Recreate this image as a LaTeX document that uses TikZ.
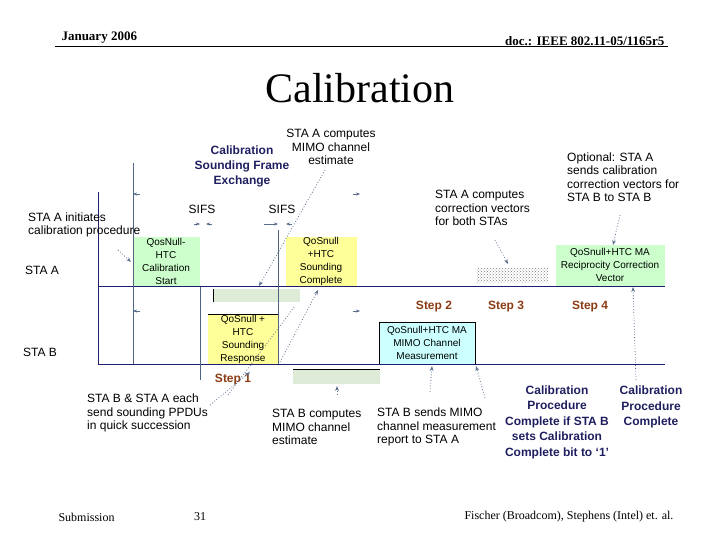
\documentclass[tikz,border=0pt]{standalone}
\usepackage{fontspec}
\setmainfont{Liberation Sans}
\newfontfamily\serif{Liberation Serif}
\usetikzlibrary{patterns,arrows.meta}
\definecolor{navy}{RGB}{31,31,96}
\definecolor{axis}{RGB}{30,30,110}
\definecolor{vline}{RGB}{80,100,130}
\definecolor{gbox}{RGB}{204,255,204}
\definecolor{ybox}{RGB}{255,255,153}
\definecolor{cbox}{RGB}{204,255,255}
\definecolor{gbar}{RGB}{222,235,215}
\definecolor{brown}{RGB}{140,60,20}
\definecolor{dotc}{RGB}{90,110,140}
\tikzset{
 x=1pt,y=-1pt,
 lbl/.style={font=\fontsize{12}{13.5}\selectfont,align=left,inner sep=0},
 clbl/.style={font=\fontsize{12}{13.5}\selectfont,align=center,inner sep=0},
 bl/.style={font=\bfseries\fontsize{12}{15}\selectfont,text=navy,align=center,inner sep=0},
 boxt/.style={font=\fontsize{10}{13}\selectfont,align=center,inner sep=0},
 stepl/.style={font=\bfseries\fontsize{12}{14}\selectfont,text=brown,inner sep=0},
 dotarr/.style={dotted,thick,draw=dotc,-{Stealth[length=5pt]}},
 tick/.style={draw=dotc,-{Stealth[length=4pt]}},
 axisl/.style={draw=axis,line width=1pt},
 vl/.style={draw=vline,line width=1pt}
}
\begin{document}
\begin{tikzpicture}
\useasboundingbox (0,0) rectangle (720,540);
% header
\node[font=\serif\bfseries\fontsize{13}{14}\selectfont,anchor=west] (hd1) at (58,38) {January 2006};
\node[font=\serif\bfseries\fontsize{13}{14}\selectfont,anchor=east] (hd2) at (668,41) {doc.: IEEE 802.11-05/1165r5};
\draw[line width=1pt] (55,47) -- (668,47);
\node[font=\serif\fontsize{42}{44}\selectfont] (title) at (360,88) {Calibration};
% footer
\node[font=\serif\fontsize{12}{13}\selectfont,anchor=west] (f1) at (55,517) {Submission};
\node[font=\serif\fontsize{12}{13}\selectfont] (f2) at (200,517) {31};
\node[font=\serif\fontsize{12}{13}\selectfont,anchor=east] (f3) at (677,517) {Fischer (Broadcom), Stephens (Intel) et. al.};
% boxes
\fill[gbox] (133,237) rectangle (200,286);
\draw[line width=1pt] (133,237) -- (133,286);
\node[boxt] (b1) at (166,261) {QosNull-\\HTC\\Calibration\\Start};
\fill[ybox] (286,237) rectangle (357,286);
\node[boxt] (b2) at (321,261) {QoSnull\\+HTC\\Sounding\\Complete};
\fill[gbar] (213,289) rectangle (300,302);
\draw[line width=0.8pt] (213,289) -- (213,302);
\fill[ybox] (208,314) rectangle (278,364);
\draw[line width=0.8pt] (208,314) -- (278,314);
\node[boxt] (b3) at (243,339) {QoSnull +\\HTC\\Sounding\\Response};
\fill[gbar] (293,369) rectangle (380,384);
\draw[line width=0.8pt] (293,369) -- (380,369);
\draw[fill=cbox,line width=0.6pt] (379,322) rectangle (475,364);
\node[boxt] (b4) at (427,343) {QoSnull+HTC MA\\MIMO Channel\\Measurement};
\fill[pattern=crosshatch dots,pattern color=gray] (476,268) rectangle (548,282);
\fill[gbox] (556,245) rectangle (665,286);
\node[boxt] (b5) at (610,265) {QoSnull+HTC MA\\Reciprocity Correction\\Vector};
% axes
\draw[axisl] (98,286) -- (665,286);
\draw[axisl] (98,364) -- (665,364);
\draw[axisl] (98,192) -- (98,364);
\draw[vl] (133,163) -- (133,364);
\draw[vl] (200,287) -- (200,380);
\draw[vl] (278,230) -- (278,364);
% labels
\node[lbl,anchor=west] (sa) at (25,270) {STA A};
\node[lbl,anchor=west] (sb) at (23,352) {STA B};
\node[lbl,anchor=west] (init) at (28,225) {STA A initiates\\calibration procedure};
\node[bl] (cal) at (242,166) {Calibration\\Sounding Frame\\Exchange};
\node[clbl] (sifs1) at (202,209) {SIFS};
\node[clbl] (sifs2) at (282,209) {SIFS};
\node[clbl] (acomp) at (331,147) {STA A computes\\MIMO channel\\estimate};
\node[lbl,anchor=west] (corr) at (435,208) {STA A computes\\correction vectors\\for both STAs};
\node[lbl,anchor=west] (opt) at (567,177) {Optional: STA A\\sends calibration\\correction vectors for\\STA B to STA B};
\node[stepl] (s1) at (233,380) {Step 1};
\node[stepl] (s2) at (434,307) {Step 2};
\node[stepl] (s3) at (506,307) {Step 3};
\node[stepl] (s4) at (590,307) {Step 4};
\node[lbl,anchor=west] (each) at (87,413) {STA B \& STA A each\\send sounding PPDUs\\in quick succession};
\node[lbl,anchor=west] (bcomp) at (272,427) {STA B computes\\MIMO channel\\estimate};
\node[lbl,anchor=west] (bsend) at (377,427) {STA B sends MIMO\\channel measurement\\report to STA A};
\node[bl,font=\bfseries\fontsize{12}{15.5}\selectfont] (cp1) at (557,422) {Calibration\\Procedure\\Complete if STA B\\sets Calibration\\Complete bit to ‘1’};
\node[bl,font=\bfseries\fontsize{12}{15.5}\selectfont] (cp2) at (651,407) {Calibration\\Procedure\\Complete};
% span ticks
\coordinate (t1a) at (133,194); \coordinate (t1b) at (140,194);
\coordinate (t2a) at (360,194); \coordinate (t2b) at (353,194);
\draw[tick] (t1b) -- (t1a); \draw[tick] (t2b) -- (t2a);
\coordinate (t3a) at (133,311); \coordinate (t3b) at (140,311);
\coordinate (t4a) at (360,311); \coordinate (t4b) at (353,311);
\draw[tick] (t3b) -- (t3a); \draw[tick] (t4b) -- (t4a);
\coordinate (s1a) at (194,224); \coordinate (s1b) at (200,224);
\coordinate (s1c) at (212,224); \coordinate (s1d) at (206,224);
\draw[tick] (s1a) -- (s1b); \draw[tick] (s1c) -- (s1d);
\coordinate (s2a) at (264,224); \coordinate (s2b) at (278,224);
\coordinate (s2c) at (292,224); \coordinate (s2d) at (286,224);
\draw[tick] (s2a) -- (s2b); \draw[tick] (s2c) -- (s2d);
% dotted pointers
\coordinate (p1) at (118,250); \coordinate (p1e) at (131,262);
\draw[dotarr] (p1) -- (p1e);
\coordinate (p2) at (325,170); \coordinate (p2e) at (259,286);
\draw[dotarr] (p2) -- (p2e);
\coordinate (p3) at (338,270); \coordinate (p3e) at (318,290);
\coordinate (p3s) at (280,362);
\draw[dotarr] (p3s) -- (318,290);
\coordinate (p4) at (210,405); \coordinate (p4e) at (250,372);
\draw[dotarr] (p4) -- (p4e);
\coordinate (p4b) at (228,395); \coordinate (p4c) at (295,306);
\draw[dotted,thick,draw=dotc] (p4b) -- (p4c);
\coordinate (p5) at (337,395); \coordinate (p5e) at (337,386);
\draw[dotarr] (p5) -- (p5e);
\coordinate (p6) at (430,392); \coordinate (p6e) at (432,366);
\draw[dotarr] (p6) -- (p6e);
\coordinate (p7) at (485,398); \coordinate (p7e) at (476,366);
\draw[dotarr] (p7) -- (p7e);
\coordinate (p8) at (495,240); \coordinate (p8e) at (508,264);
\draw[dotarr] (495,240) -- (p8e);
\coordinate (p9) at (620,215); \coordinate (p9e) at (613,245);
\draw[dotarr] (p9) -- (p9e);
\coordinate (p10) at (636,380); \coordinate (p10e) at (633,287);
\draw[dotarr] (p10) -- (p10e);
\end{tikzpicture}
\end{document}
